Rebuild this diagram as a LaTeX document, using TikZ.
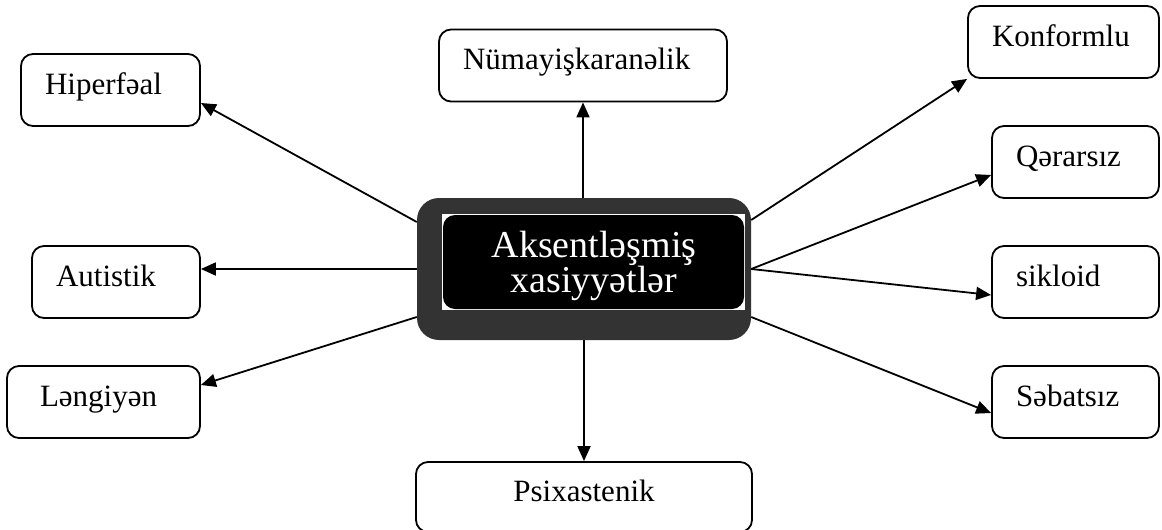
\documentclass[tikz,border=0pt]{standalone}
\usepackage{fontspec}
\setmainfont{Liberation Serif}
\usetikzlibrary{arrows.meta}
\definecolor{framegray}{HTML}{333333}

\begin{document}
\begin{tikzpicture}[
    x=1pt, y=-1pt,
    >={Triangle[length=15pt, width=13pt]},
    link/.style={->, line width=1.8pt},
    trait node/.style={draw, line width=1.8pt, rounded corners=12pt, minimum height=72pt, inner ysep=0pt, inner xsep=24pt, align=left, text height=24pt, text depth=16pt, font=\fontsize{31}{36}\selectfont}
]
    \useasboundingbox (0,0) rectangle (1162,530);

    % Centre
    \node[fill=framegray, rounded corners=22pt, minimum width=334pt, minimum height=142pt] (centre) at (584,269) {};
    \node[fill=white, minimum width=303pt, minimum height=96pt, inner sep=0pt] (inner) at (593.5,262) {};
    \node[fill=black, rounded corners=12pt, minimum width=301pt, minimum height=94pt, inner sep=0pt] (core) at (inner) {};
    \node[text=white, align=center, inner sep=0pt, font=\fontsize{38}{34}\selectfont] (caption) at (594,266) {Aksentləşmiş\\xasiyyətlər};

    % Traits
    \node[trait node, text width=131pt] (hiper) at (110.5,90) {Hiperfəal};
    \node[trait node, text width=120pt] (autis) at (116,282) {Autistik};
    \node[trait node, inner xsep=33pt, text width=127pt] (leng) at (103.5,402) {Ləngiyən};
    \node[trait node, text width=240pt] (numay) at (583,65.5) {Nümayişkaranəlik};
    \node[trait node, text width=143pt] (konf) at (1063.5,42) {Konformlu};
    \node[trait node, text width=119pt] (qerar) at (1075.5,162) {Qərarsız};
    \node[trait node, text width=119pt] (sikl) at (1075.5,282) {sikloid};
    \node[trait node, text width=119pt] (sebat) at (1075.5,402) {Səbatsız};
    \node[trait node, align=center, text width=288pt, minimum height=70pt] (psix) at (584,497) {Psixastenik};

    % Links
    \draw[link] (numay.south |- centre.north) -- (numay.south);
    \draw[link] (centre.south) -- (psix.north);
    \draw[link] ([yshift=47pt]centre.west) -- ([yshift=-13pt]hiper.east);
    \draw[link] (centre.west) -- (centre.west -| autis.east);
    \draw[link] ([yshift=-48pt]centre.west) -- ([yshift=17pt]leng.east);
    \draw[link] ([yshift=49pt]centre.east) -- (konf.south west);
    \draw[link] (centre.east) -- ([yshift=-13pt]qerar.west);
    \draw[link] (centre.east) -- ([yshift=-13pt]sikl.west);
    \draw[link] ([yshift=-48pt]centre.east) -- ([yshift=-11pt]sebat.west);
\end{tikzpicture}
\end{document}
